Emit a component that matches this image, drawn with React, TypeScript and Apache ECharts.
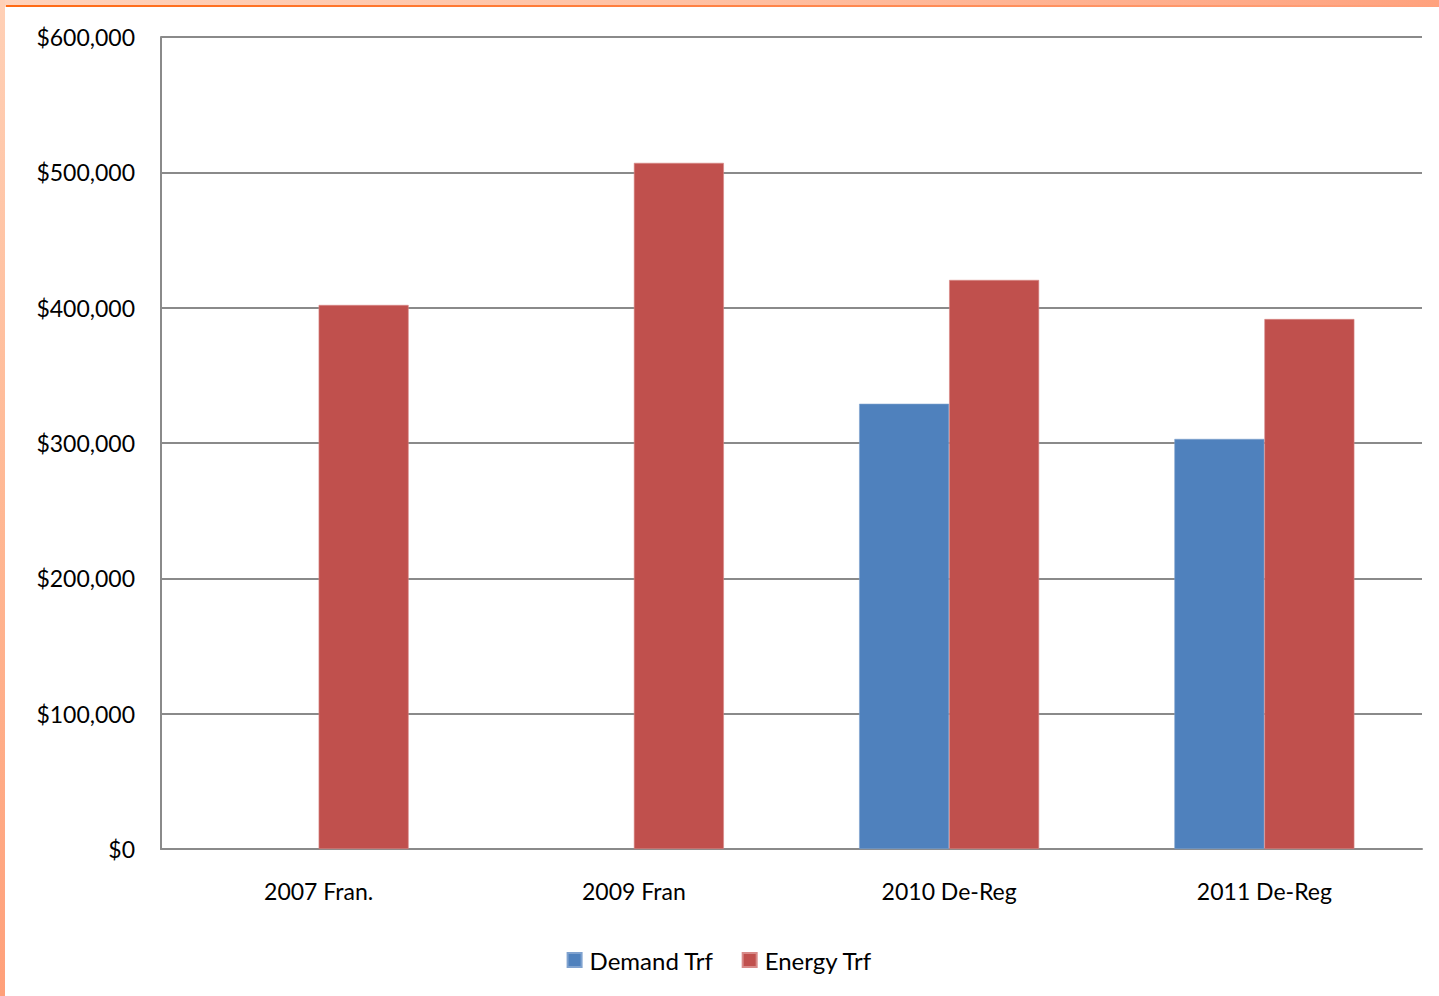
import React, { useEffect, useRef } from "react";
import * as echarts from "echarts";

const categories = ["2007 Fran.", "2009 Fran", "2010 De-Reg", "2011 De-Reg"];
const demandTrf = [null, null, 329000, 303000];
const energyTrf = [402000, 507000, 420500, 391600];
const yTicks = [0, 100000, 200000, 300000, 400000, 500000, 600000];

const FONT = "Lato, 'Open Sans', sans-serif";

function fmtMoney(v: number) {
  return "$" + v.toLocaleString("en-US");
}

export default function App() {
  const ref = useRef<HTMLDivElement>(null);
  useEffect(() => {
    if (!ref.current) return;
    const chart = echarts.init(ref.current, null, { renderer: "svg" });
    chart.setOption({
      animation: false,
      backgroundColor: "#ffffff",
      textStyle: { fontFamily: FONT },
      grid: { left: 161, right: 17, top: 37, bottom: 147, containLabel: false },
      legend: {
        top: 943,
        left: "center",
        icon: "rect",
        itemWidth: 14,
        itemHeight: 14,
        itemGap: 28,
        textStyle: { fontFamily: FONT, fontSize: 24, color: "#000", padding: [0, 0, 0, 3] },
        data: ["Demand Trf", "Energy Trf"],
      },
      xAxis: {
        type: "category",
        data: categories,
        axisLine: { show: true, lineStyle: { color: "#8a8a8a", width: 2 } },
        axisTick: { show: false },
        axisLabel: { color: "#000", fontSize: 23, fontFamily: FONT, margin: 30 },
      },
      yAxis: {
        type: "value",
        min: yTicks[0],
        max: yTicks[yTicks.length - 1],
        interval: 100000,
        axisLine: { show: true, lineStyle: { color: "#8a8a8a", width: 2 } },
        axisTick: { show: false },
        splitLine: { show: true, lineStyle: { color: "#8a8a8a", width: 2 } },
        axisLabel: {
          color: "#000",
          fontSize: 23,
          fontFamily: FONT,
          margin: 26,
          formatter: (v: number) => fmtMoney(v),
        },
      },
      series: [
        {
          name: "Demand Trf",
          type: "bar",
          data: demandTrf,
          barWidth: 90,
          barGap: "0%",
          itemStyle: { color: "#4F81BD", borderColor: "#7FA2CF", borderWidth: 0.6 },
        },
        {
          name: "Energy Trf",
          type: "bar",
          data: energyTrf,
          barWidth: 90,
          barGap: "0%",
          itemStyle: { color: "#C0504D", borderColor: "#D88A88", borderWidth: 0.6 },
        },
      ],
      graphic: [
        {
          type: "rect",
          z: 100,
          shape: { x: 0, y: 0, width: 1439, height: 7 },
          style: {
            fill: new echarts.graphic.LinearGradient(0, 0, 1, 0, [
              { offset: 0, color: "#FFD3BC" },
              { offset: 0.5, color: "#FFC0A2" },
              { offset: 1, color: "#FFA27E" },
            ]),
          },
        },
        {
          type: "rect",
          z: 101,
          shape: { x: 6, y: 5, width: 1433, height: 2 },
          style: {
            fill: new echarts.graphic.LinearGradient(0, 0, 1, 0, [
              { offset: 0, color: "#FF6A14" },
              { offset: 0.5, color: "#FF8245" },
              { offset: 1, color: "#FFA27E" },
            ]),
          },
        },
        {
          type: "rect",
          z: 102,
          shape: { x: 0, y: 0, width: 5, height: 996 },
          style: {
            fill: new echarts.graphic.LinearGradient(0, 0, 0, 1, [
              { offset: 0, color: "#FFD0B6" },
              { offset: 0.5, color: "#FFB894" },
              { offset: 1, color: "#FFA07A" },
            ]),
          },
        },
      ],
    });
    return () => chart.dispose();
  }, []);
  return (
    <div
      ref={ref}
      style={{ position: "absolute", left: 0, top: 0, width: 1439, height: 996 }}
    />
  );
}
